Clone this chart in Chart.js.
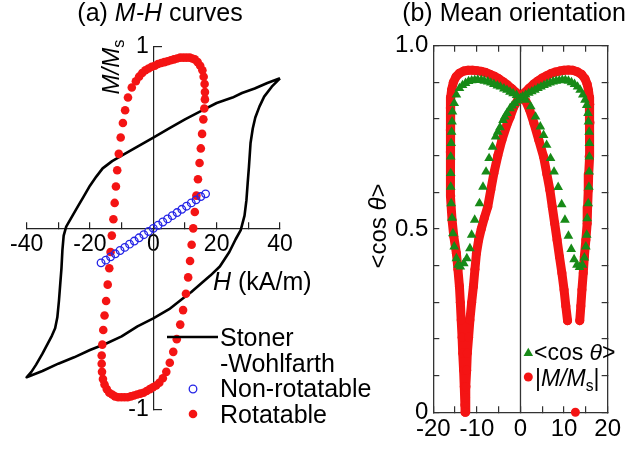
<!DOCTYPE html>
<html>
<head>
<meta charset="utf-8">
<script src="https://cdn.jsdelivr.net/npm/chart.js@4.4.1/dist/chart.umd.min.js"></script>
<style>
  html, body { margin: 0; padding: 0; background: #fff; }
  #wrap { position: relative; width: 630px; height: 469px; }
  canvas { position: absolute; top: 0; }
  #ca { left: 0; }
  #cb { left: 320px; }
</style>
</head>
<body>
<div id="wrap">
  <canvas id="ca" width="630" height="469"></canvas>
  <canvas id="cb" width="310" height="469"></canvas>
</div>
<script>
// ---- (a) M-H curves : [H (kA/m), M/Ms] ----
const swUpper = [[40,0.826],[36,0.80],[32,0.77],[28,0.745],[25,0.72],[20,0.69],[15,0.645],[10,0.60],[5,0.55],[0,0.50],
  [-5,0.45],[-10,0.40],[-13,0.37],[-16,0.33],[-18,0.285],[-20,0.235],[-22,0.175],[-24,0.115],[-26,0.055],[-27.5,0.01],
  [-28.3,-0.04],[-28.7,-0.12],[-29,-0.22],[-29.4,-0.31],[-29.8,-0.40],[-30.3,-0.49],[-31,-0.55],[-32,-0.59],[-33.5,-0.64],
  [-35,-0.69],[-37,-0.75],[-38.5,-0.79],[-40,-0.82]];
const swLower = [[-40,-0.82],[-35,-0.785],[-30,-0.745],[-25,-0.71],[-20,-0.67],[-15,-0.635],[-10,-0.595],[-5,-0.54],[0,-0.496],
  [5,-0.445],[9,-0.39],[12,-0.35],[15,-0.305],[18,-0.26],[21,-0.21],[24,-0.13],[26,-0.06],[27.6,-0.01],[28.8,0.07],[29.4,0.155],
  [29.8,0.25],[30.2,0.34],[30.7,0.47],[31.4,0.55],[32.2,0.61],[33.5,0.67],[35,0.725],[37.4,0.78],[40,0.826]];
const nonRotatable = [[-16.5,-0.19],[-15,-0.175],[-13.5,-0.157],[-12,-0.14],[-10.5,-0.122],[-9,-0.105],[-7.5,-0.087],[-6,-0.07],
  [-4.5,-0.052],[-3,-0.035],[-1.5,-0.017],[0,0],[1.5,0.017],[3,0.035],[4.5,0.052],[6,0.07],[7.5,0.087],[9,0.105],[10.5,0.122],
  [12,0.14],[13.5,0.157],[15,0.175],[16.5,0.19]];
const rotatable = [
  [-6.8,0.775],[-5.5,0.81],[-4.5,0.835],[-3.5,0.855],[-2.5,0.87],[-1.5,0.88],[-0.5,0.89],[0.5,0.895],[1.5,0.905],[2.5,0.91],
  [3.5,0.915],[4.5,0.92],[5.5,0.925],[6.5,0.93],[7.5,0.935],[8.5,0.94],[9.5,0.94],[10.5,0.94],[11.5,0.94],[12.3,0.935],
  [13.1,0.93],[14.0,0.915],[14.8,0.895],[15.5,0.87],[15.9,0.835],[16.2,0.795],[16.3,0.75],[16.3,0.71],[16.1,0.66],
  [15.8,0.60],[15.4,0.52],[15.0,0.44],[14.6,0.36],[14.1,0.27],[13.6,0.18],[13.1,0.09],[12.6,0.0],[12.1,-0.09],[11.6,-0.18],
  [11.0,-0.27],[10.3,-0.36],[9.4,-0.45],[8.5,-0.53],[7.4,-0.61],[6.3,-0.68],[5.2,-0.74],[4.1,-0.79],[3.0,-0.825],[1.9,-0.85],
  [0.9,-0.865],[-0.1,-0.875],[-1.1,-0.885],[-2.1,-0.895],[-3.1,-0.905],[-4.1,-0.91],[-5.1,-0.915],[-6.1,-0.92],[-7.1,-0.925],
  [-8.1,-0.93],[-9.1,-0.93],[-10.1,-0.93],[-11.1,-0.93],[-12.1,-0.925],[-13.0,-0.915],[-13.9,-0.905],[-14.7,-0.885],
  [-15.4,-0.86],[-15.9,-0.83],[-16.2,-0.79],[-16.3,-0.745],[-16.3,-0.70],[-16.1,-0.64],[-15.8,-0.56],[-15.4,-0.48],
  [-14.9,-0.40],[-14.4,-0.31],[-13.9,-0.22],[-13.5,-0.13],[-13.1,-0.04],[-12.6,0.05],[-12.2,0.14],[-11.8,0.23],[-11.4,0.32],
  [-10.9,0.41],[-10.3,0.50],[-9.6,0.58],[-8.9,0.65],[-8.0,0.72]];
const ticksA = [-40, -20, 0, 20, 40];

// ---- (b) Mean orientation : [H (kA/m), value] ----
const cosTheta = [
  [0,0.857],[-0.6,0.85],[-1.3,0.843],[-1.9,0.836],[-2.4,0.829],[-3.1,0.816],[-3.6,0.806],[-4.0,0.797],[-4.7,0.777],[-5.2,0.765],
  [-5.7,0.752],[-6.4,0.724],[-7.2,0.693],[-7.9,0.656],[-8.6,0.615],[-9.4,0.570],[-10.5,0.525],[-11.2,0.484],[-11.6,0.447],
  [-12.3,0.420],[-13.0,0.406],[-13.8,0.397],[-14.3,0.402],[-14.7,0.420],[-15.2,0.452],[-15.5,0.488],[-15.7,0.530],[-15.9,0.570],
  [-16.0,0.615],[-16.0,0.652],[-16.0,0.697],[-15.9,0.734],[-15.8,0.765],[-15.7,0.793],[-15.6,0.820],[-15.2,0.843],[-14.7,0.866],
  [-14.0,0.884],[-13.3,0.892],[-12.6,0.898],[-11.9,0.903],[-11.2,0.905],[-10.5,0.906],[-9.8,0.907],[-9.0,0.906],[-8.3,0.904],
  [-7.5,0.902],[-6.8,0.899],[-6.1,0.895],[-5.3,0.891],[-4.6,0.888],[-3.8,0.883],[-3.1,0.879],[-2.4,0.874],[-1.7,0.870],[-0.9,0.865],
  [0.5,0.861],[1.2,0.866],[1.9,0.871],[2.6,0.875],[3.3,0.879],[4.0,0.884],[4.7,0.888],[5.4,0.892],[6.1,0.896],[6.8,0.899],
  [7.5,0.902],[8.2,0.904],[8.9,0.905],[9.6,0.906],[10.3,0.906],[11.0,0.904],[11.7,0.900],[12.4,0.895],[13.1,0.888],[13.7,0.879],
  [14.3,0.866],[14.8,0.852],[15.2,0.838],[15.5,0.816],[15.6,0.793],[15.75,0.765],[15.8,0.734],[15.8,0.697],[15.75,0.656],
  [15.7,0.615],[15.55,0.570],[15.3,0.529],[15.2,0.484],[15.0,0.452],[14.65,0.422],[14.2,0.402],[13.55,0.396],[12.95,0.402],
  [12.3,0.417],[11.65,0.445],[11.0,0.481],[10.2,0.525],[9.45,0.567],[8.65,0.614],[7.7,0.656],[6.9,0.693],[6.0,0.729],
  [5.3,0.756],[4.55,0.779],[3.45,0.806],[2.35,0.834],[1.25,0.852]];
const absMLeft = [
  [0,0.861],[-1,0.872],[-2,0.883],[-3,0.893],[-4,0.902],[-5,0.91],[-6,0.917],[-7,0.922],[-8,0.927],[-9,0.930],[-10,0.932],
  [-11,0.933],[-12,0.933],[-13,0.931],[-14,0.925],[-14.8,0.915],[-15.4,0.90],[-15.8,0.88],[-16.0,0.86],[-16.1,0.83],[-16.1,0.77],
  [-16.1,0.71],[-16.05,0.65],[-16.0,0.59],[-15.7,0.525],[-15.3,0.48],[-14.7,0.434],[-14.35,0.39],[-14.0,0.343],[-13.8,0.30],
  [-13.6,0.252],[-13.4,0.205],[-13.25,0.161],[-13.05,0.115],[-12.9,0.07],[-12.75,0.02],[-12.7,0.0],[-12.6,0.04],[-12.5,0.07],
  [-12.35,0.115],[-12.2,0.161],[-11.9,0.205],[-11.6,0.252],[-11.2,0.30],[-10.8,0.343],[-10.45,0.39],[-10.1,0.434],[-9.6,0.47],
  [-9.0,0.50],[-8.3,0.53],[-7.5,0.561],[-6.8,0.607],[-6.1,0.652],[-5.2,0.70],[-4.25,0.743],[-3.1,0.785],[-2.4,0.805],
  [-1.5,0.834],[-0.7,0.85],[0,0.861]];
const absMRight = [
  [10.8,0.25],[10.4,0.29],[10.0,0.334],[9.5,0.38],[8.95,0.424],[8.4,0.47],[7.85,0.515],[7.3,0.56],[6.75,0.606],[6.05,0.65],
  [5.3,0.697],[4.2,0.743],[3.1,0.788],[2.1,0.825],[1.25,0.848],[0,0.861],[1,0.872],[2,0.884],[3,0.895],[4,0.904],[5,0.912],
  [6,0.918],[7,0.924],[8,0.928],[9,0.931],[10,0.933],[11,0.934],[12,0.933],[13,0.929],[14,0.922],[14.8,0.91],[15.3,0.895],
  [15.6,0.878],[15.8,0.86],[15.9,0.84],[15.95,0.79],[15.85,0.74],[15.75,0.697],[15.65,0.65],[15.55,0.606],[15.4,0.56],
  [15.3,0.515],[15.0,0.47],[14.65,0.424],[14.4,0.38],[14.1,0.334],[13.85,0.29],[13.6,0.25]];
const absMZero = [[12.6,0.0]];
const ticksBx = [-20, -10, 0, 10, 20];
const ticksBy = ['0', '0.5', '1.0'];

const RED = '#f41414';
const GREEN = '#178a17';
const BLUE = '#2424e6';
const FONT = '"Liberation Sans", Arial, sans-serif';
Chart.defaults.font.family = FONT;
Chart.defaults.color = '#000';

const pts = arr => arr.map(p => ({ x: p[0], y: p[1] }));

function setFont(ctx, size, italic) {
  ctx.font = (italic ? 'italic ' : '') + size + 'px ' + FONT;
}
// parts: [text, style]  style: '' normal, 'i' italic, 's' subscript
function drawRich(ctx, parts, x, y, size, align) {
  let w = 0;
  parts.forEach(p => {
    setFont(ctx, p[1] === 's' ? size * 0.68 : size, p[1] === 'i');
    w += ctx.measureText(p[0]).width;
  });
  let cx = align === 'center' ? x - w / 2 : (align === 'right' ? x - w : x);
  ctx.textAlign = 'left';
  ctx.textBaseline = 'alphabetic';
  parts.forEach(p => {
    const s = p[1] === 's' ? size * 0.68 : size;
    setFont(ctx, s, p[1] === 'i');
    ctx.fillText(p[0], cx, y + (p[1] === 's' ? size * 0.2 : 0));
    cx += ctx.measureText(p[0]).width;
  });
}

const fixHeight = h => s => { s.height = h; };
const fixWidth = w => s => { s.width = w; };

// text, titles and legend for panel (a)
const textA = {
  id: 'textA',
  afterDraw(chart) {
    const ctx = chart.ctx;
    ctx.save();
    ctx.fillStyle = '#000';
    drawRich(ctx, [['(a) ', ''], ['M-H', 'i'], [' curves', '']], 160, 21, 25, 'center');
    drawRich(ctx, [['H', 'i'], [' (kA/m)', '']], 213, 290, 25, 'left');
    ctx.save();
    ctx.translate(119, 67);
    ctx.rotate(-Math.PI / 2);
    drawRich(ctx, [['M/M', 'i'], ['s', 's']], 0, 0, 24, 'center');
    ctx.restore();

    // legend
    ctx.strokeStyle = '#000';
    ctx.lineWidth = 2.6;
    ctx.beginPath();
    ctx.moveTo(167, 337);
    ctx.lineTo(218, 337);
    ctx.stroke();
    drawRich(ctx, [['Stoner', '']], 220, 346, 25, 'left');
    drawRich(ctx, [['-Wohlfarth', '']], 220, 372, 25, 'left');
    ctx.strokeStyle = BLUE;
    ctx.lineWidth = 1.3;
    ctx.beginPath();
    ctx.arc(193, 389, 3.8, 0, Math.PI * 2);
    ctx.stroke();
    drawRich(ctx, [['Non-rotatable', '']], 220, 397, 25, 'left');
    ctx.fillStyle = RED;
    ctx.beginPath();
    ctx.arc(193, 414, 4.3, 0, Math.PI * 2);
    ctx.fill();
    ctx.fillStyle = '#000';
    drawRich(ctx, [['Rotatable', '']], 220, 423, 25, 'left');
    ctx.restore();
  }
};

new Chart(document.getElementById('ca'), {
  type: 'scatter',
  data: {
    datasets: [
      { label: 'Non-rotatable', data: pts(nonRotatable), pointRadius: 3.8, pointBorderWidth: 1.3,
        pointBorderColor: BLUE, pointBackgroundColor: 'rgba(0,0,0,0)', clip: false },
      { label: 'Rotatable', data: pts(rotatable), pointRadius: 4.3, pointBorderWidth: 0,
        pointBackgroundColor: RED, pointBorderColor: RED, clip: false },
      { label: 'Stoner-Wohlfarth', data: pts(swUpper.concat(swLower)), showLine: true, borderColor: '#000',
        borderWidth: 2.6, pointRadius: 0, tension: 0, borderJoinStyle: 'round', clip: false }
    ]
  },
  options: {
    responsive: false,
    animation: false,
    events: [],
    layout: { padding: { left: 21.7, right: 350, top: 46.7, bottom: 59 } },
    plugins: { legend: { display: false }, tooltip: { enabled: false } },
    scales: {
      x: {
        type: 'linear', min: -40, max: 40, position: { y: 0 }, afterFit: fixHeight(0),
        border: { display: true, color: '#222', width: 1.2 },
        grid: { display: true, drawOnChartArea: false, drawTicks: true, tickLength: -7, color: '#222', lineWidth: 1.2 },
        ticks: { stepSize: 10, autoSkip: false, maxRotation: 0, minRotation: 0, padding: 10, font: { size: 23 },
          callback: v => (ticksA.includes(v) ? String(v) : '') }
      },
      y: {
        type: 'linear', min: -1, max: 1, position: { x: 0 }, afterFit: fixWidth(0),
        border: { display: true, color: '#222', width: 1.2 },
        grid: { display: true, drawOnChartArea: false, drawTicks: true, tickLength: -9, color: '#222', lineWidth: 1.2 },
        ticks: { stepSize: 1, autoSkip: false, font: { size: 23 },
          callback: v => (v === 1 ? '1\u2009' : (v === -1 ? '-1\u2009' : '')) }
      }
    }
  },
  plugins: [textA]
});

// text, zero line and legend for panel (b)
const textB = {
  id: 'textB',
  beforeDatasetsDraw(chart) {
    const ctx = chart.ctx;
    const x0 = chart.scales.x.getPixelForValue(0);
    ctx.save();
    ctx.strokeStyle = '#333';
    ctx.lineWidth = 1.3;
    ctx.beginPath();
    ctx.moveTo(x0, chart.chartArea.top);
    ctx.lineTo(x0, chart.chartArea.bottom);
    ctx.stroke();
    ctx.restore();
  },
  afterDraw(chart) {
    const ctx = chart.ctx;
    ctx.save();
    ctx.fillStyle = '#000';
    drawRich(ctx, [['(b) Mean orientation', '']], 194, 21, 25, 'center');
    ctx.save();
    ctx.translate(65.5, 226);
    ctx.rotate(-Math.PI / 2);
    drawRich(ctx, [['<cos ', ''], ['\u03b8', 'i'], ['>', '']], 0, 0, 24, 'center');
    ctx.restore();

    // legend inside plot
    ctx.fillStyle = GREEN;
    const tx = 208.3, ty = 353.3, r = 5.5;
    ctx.beginPath();
    ctx.moveTo(tx, ty - r);
    ctx.lineTo(tx + r * 0.866, ty + r * 0.5);
    ctx.lineTo(tx - r * 0.866, ty + r * 0.5);
    ctx.closePath();
    ctx.fill();
    ctx.fillStyle = '#000';
    drawRich(ctx, [['<cos ', ''], ['\u03b8', 'i'], ['>', '']], 214, 360, 23, 'left');
    ctx.fillStyle = RED;
    ctx.beginPath();
    ctx.arc(208.3, 377, 4.5, 0, Math.PI * 2);
    ctx.fill();
    ctx.fillStyle = '#000';
    drawRich(ctx, [['|', ''], ['M/M', 'i'], ['s', 's'], ['|', '']], 215, 386, 23, 'left');
    ctx.restore();
  }
};

const frameGrid = { display: true, drawOnChartArea: false, drawTicks: true, tickLength: -6, color: '#333', lineWidth: 1.2 };
const frameBorder = { display: true, color: '#333', width: 1.3 };
const redBand = { borderColor: RED, borderWidth: 9, borderJoinStyle: 'round', borderCapStyle: 'round',
  pointRadius: 4.5, pointBorderWidth: 0, pointBackgroundColor: RED, showLine: true, tension: 0, clip: false };

new Chart(document.getElementById('cb'), {
  type: 'scatter',
  data: {
    datasets: [
      { label: '<cos\u03b8>', data: pts(cosTheta), pointStyle: 'triangle', pointRadius: 5.6, pointBorderWidth: 0,
        pointBackgroundColor: GREEN, pointBorderColor: GREEN, clip: false },
      Object.assign({ label: '|M/Ms|', data: pts(absMLeft) }, redBand),
      Object.assign({ label: '|M/Ms| right', data: pts(absMRight) }, redBand),
      { label: '|M/Ms| zero', data: pts(absMZero), pointRadius: 4.5, pointBorderWidth: 0,
        pointBackgroundColor: RED, clip: false }
    ]
  },
  options: {
    responsive: false,
    animation: false,
    events: [],
    layout: { padding: { left: 0, right: 14.7, top: 45.7, bottom: 0 } },
    plugins: { legend: { display: false }, tooltip: { enabled: false } },
    scales: {
      x: {
        type: 'linear', position: 'bottom', min: -20, max: 20, afterFit: fixHeight(56.7),
        border: frameBorder, grid: frameGrid,
        ticks: { stepSize: 5, autoSkip: false, maxRotation: 0, minRotation: 0, padding: 9, font: { size: 24 },
          callback: v => (ticksBx.includes(v) ? String(v) : '') }
      },
      x2: {
        type: 'linear', axis: 'x', position: 'top', min: -20, max: 20, afterFit: fixHeight(0),
        border: frameBorder, grid: frameGrid, ticks: { stepSize: 5, display: false, autoSkip: false }
      },
      y: {
        type: 'linear', position: 'left', min: 0, max: 1, afterFit: fixWidth(113.3),
        border: frameBorder, grid: frameGrid,
        ticks: { stepSize: 0.1, autoSkip: false, padding: 11, font: { size: 24 },
          callback: v => {
            const s = (Math.round(v * 10) / 10).toFixed(1);
            if (s === '0.0') return ticksBy[0];
            return ticksBy.includes(s) ? s : '';
          } }
      },
      y2: {
        type: 'linear', axis: 'y', position: 'right', min: 0, max: 1, afterFit: fixWidth(0),
        border: frameBorder, grid: frameGrid, ticks: { stepSize: 0.1, display: false, autoSkip: false }
      }
    }
  },
  plugins: [textB]
});
</script>
</body>
</html>
